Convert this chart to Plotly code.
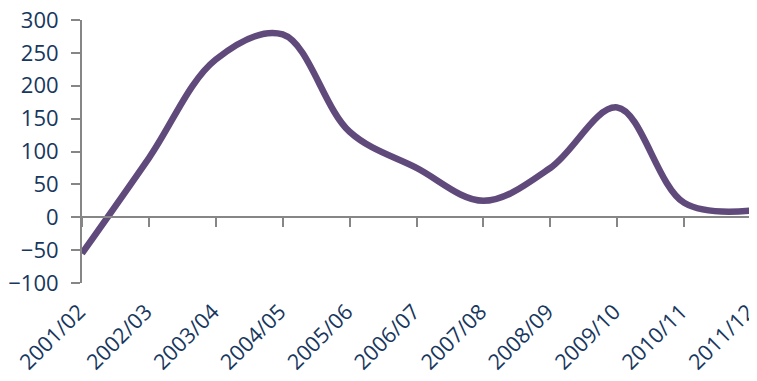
import plotly.graph_objects as go

categories = ["2001/02", "2002/03", "2003/04", "2004/05", "2005/06", "2006/07",
              "2007/08", "2008/09", "2009/10", "2010/11", "2011/12"]
values = [-55, 90, 240, 278, 130, 75, 25, 75, 167, 22, 10]
y_ticks = [-100, -50, 0, 50, 100, 150, 200, 250, 300]

text_color = "#17375E"
axis_color = "#868686"
line_color = "#604A7B"
font_family = "Open Sans, Liberation Sans, sans-serif"

fig = go.Figure()
# invisible helper on bottom label axis
fig.add_trace(go.Scatter(x=categories, y=values, mode="lines", xaxis="x", yaxis="y",
                         line=dict(width=0, color="rgba(0,0,0,0)"), hoverinfo="skip",
                         showlegend=False))
fig.add_trace(go.Scatter(x=categories, y=values, mode="lines", xaxis="x2", yaxis="y",
                         line=dict(color=line_color, width=6.5, shape="spline", smoothing=1),
                         showlegend=False))

# page body has an 8px default margin, so the figure is sized to fit the window
fig.update_layout(
    width=749, height=373,
    margin=dict(l=74, r=6, t=12, b=98, autoexpand=False),
    paper_bgcolor="white", plot_bgcolor="white",
    font=dict(family=font_family, color=text_color),
    xaxis=dict(type="category", categoryorder="array", categoryarray=categories,
               range=[0, len(categories) - 1], showline=False, ticks="",
               showgrid=False, zeroline=False, tickangle=-45, automargin=False,
               ticklabelstandoff=11, ticklabelshift=-3, ticklabeloverflow="allow",
               tickfont=dict(size=21.5, color=text_color, family=font_family)),
    xaxis2=dict(type="category", categoryorder="array", categoryarray=categories,
                range=[0, len(categories) - 1], overlaying="x", anchor="free",
                position=0.25, showline=True, linecolor=axis_color, linewidth=2,
                ticks="outside", ticklen=9, tickcolor=axis_color, tickwidth=2,
                showticklabels=False, showgrid=False, zeroline=False, automargin=False),
    yaxis=dict(range=[-100, 300], tickvals=y_ticks, showline=True, linecolor=axis_color,
               linewidth=2, ticks="outside", ticklen=9, tickcolor=axis_color, tickwidth=2,
               showgrid=False, zeroline=False, ticklabelstandoff=8, automargin=False,
               ticklabeloverflow="allow",
               tickfont=dict(size=22, color=text_color, family=font_family)),
)

fig.write_html("out.html")
